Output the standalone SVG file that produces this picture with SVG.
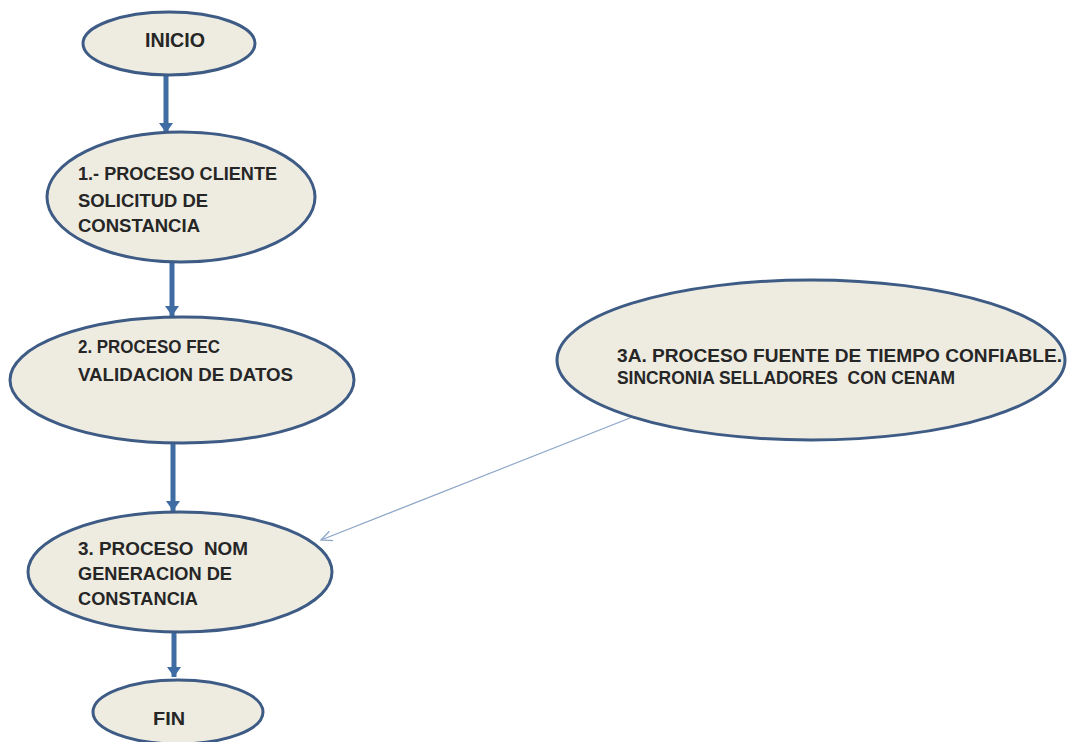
<svg xmlns="http://www.w3.org/2000/svg" width="1073" height="742" viewBox="0 0 1073 742">
<style>
.node ellipse{fill:#eeece1;stroke:#3d5b84;stroke-width:3}
.node text{font-family:"Liberation Sans",Arial,sans-serif;font-size:18px;fill:#262626;font-weight:bold}
.thick{stroke:#3e6ca3;stroke-width:5;fill:none}
.thin{stroke:#8ea6c8;stroke-width:1.3;fill:none}
</style>
<defs>
<marker id="ah" markerUnits="userSpaceOnUse" markerWidth="18" markerHeight="14" refX="10" refY="7" orient="auto">
<path d="M0,0 L10,7 L0,14 Z" fill="#3e6ca3"/>
</marker>
<marker id="ahThin" markerUnits="userSpaceOnUse" markerWidth="14" markerHeight="12" refX="12" refY="6" orient="auto">
<path d="M1,1 L12,6 L1,11" fill="none" stroke="#8ea6c8" stroke-width="1.3"/>
</marker>
</defs>
<rect width="1073" height="742" fill="#ffffff"/>
<g id="connectors">
<line class="thick" x1="166" y1="75" x2="166" y2="133" marker-end="url(#ah)"/>
<line class="thick" x1="172" y1="262" x2="172" y2="316" marker-end="url(#ah)"/>
<line class="thick" x1="173" y1="443" x2="173" y2="511" marker-end="url(#ah)"/>
<line class="thick" x1="174" y1="632" x2="174" y2="677" marker-end="url(#ah)"/>
<line class="thin" x1="630" y1="418" x2="321" y2="540" marker-end="url(#ahThin)"/>
</g>
<g id="inicio" class="node">
<ellipse cx="169" cy="43.5" rx="86" ry="31.5"/>
<text x="145" y="47" textLength="60" lengthAdjust="spacingAndGlyphs" style="font-size:20px">INICIO</text>
</g>
<g id="n1" class="node">
<ellipse cx="181" cy="197" rx="134" ry="65"/>
<text x="78" y="180" textLength="199" lengthAdjust="spacingAndGlyphs">1.- PROCESO CLIENTE</text>
<text x="78" y="207" textLength="130" lengthAdjust="spacingAndGlyphs">SOLICITUD DE</text>
<text x="78" y="232" textLength="122" lengthAdjust="spacingAndGlyphs">CONSTANCIA</text>
</g>
<g id="n2" class="node">
<ellipse cx="182" cy="380" rx="172" ry="63"/>
<text x="78" y="353" textLength="142" lengthAdjust="spacingAndGlyphs">2. PROCESO FEC</text>
<text x="78" y="381" textLength="215" lengthAdjust="spacingAndGlyphs">VALIDACION DE DATOS</text>
</g>
<g id="n3a" class="node">
<ellipse cx="811" cy="360" rx="254" ry="80"/>
<text x="617" y="362" textLength="445" lengthAdjust="spacingAndGlyphs">3A. PROCESO FUENTE DE TIEMPO CONFIABLE.</text>
<text x="617" y="384" textLength="338" lengthAdjust="spacingAndGlyphs" xml:space="preserve">SINCRONIA SELLADORES  CON CENAM</text>
</g>
<g id="n3" class="node">
<ellipse cx="180" cy="572" rx="152" ry="60"/>
<text x="78" y="555" textLength="170" lengthAdjust="spacingAndGlyphs" xml:space="preserve">3. PROCESO  NOM</text>
<text x="78" y="580" textLength="154" lengthAdjust="spacingAndGlyphs">GENERACION DE</text>
<text x="78" y="605" textLength="120" lengthAdjust="spacingAndGlyphs">CONSTANCIA</text>
</g>
<g id="fin" class="node">
<ellipse cx="178" cy="712" rx="85" ry="32"/>
<text x="153" y="725" textLength="32" lengthAdjust="spacingAndGlyphs" style="font-size:19px">FIN</text>
</g>
</svg>
